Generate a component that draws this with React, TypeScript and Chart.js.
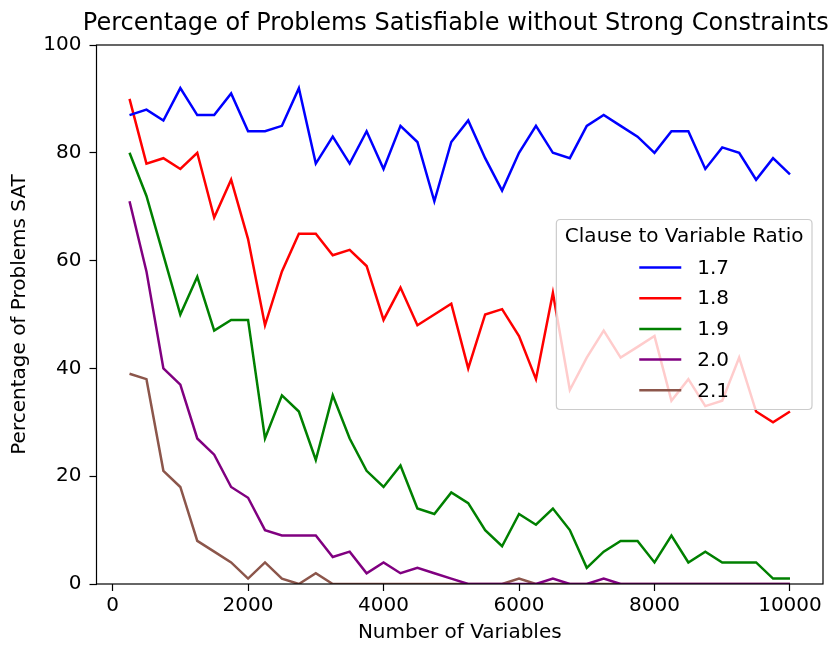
import React, { useEffect, useRef } from "react";
import { Chart, registerables } from "chart.js";

Chart.register(...registerables);

// ---- data ----
const numVariables = [
  250, 500, 750, 1000, 1250, 1500, 1750, 2000, 2250, 2500,
  2750, 3000, 3250, 3500, 3750, 4000, 4250, 4500, 4750, 5000,
  5250, 5500, 5750, 6000, 6250, 6500, 6750, 7000, 7250, 7500,
  7750, 8000, 8250, 8500, 8750, 9000, 9250, 9500, 9750, 10000,
];

const ratioLabels = ["1.7", "1.8", "1.9", "2.0", "2.1"];

const sat17 = [
  87, 88, 86, 92, 87, 87, 91, 84, 84, 85,
  92, 78, 83, 78, 84, 77, 85, 82, 71, 82,
  86, 79, 73, 80, 85, 80, 79, 85, 87, 85,
  83, 80, 84, 84, 77, 81, 80, 75, 79, 76,
];
const sat18 = [
  90, 78, 79, 77, 80, 68, 75, 64, 48, 58,
  65, 65, 61, 62, 59, 49, 55, 48, 50, 52,
  40, 50, 51, 46, 38, 54, 36, 42, 47, 42,
  44, 46, 34, 38, 33, 34, 42, 32, 30, 32,
];
const sat19 = [
  80, 72, 61, 50, 57, 47, 49, 49, 27, 35,
  32, 23, 35, 27, 21, 18, 22, 14, 13, 17,
  15, 10, 7, 13, 11, 14, 10, 3, 6, 8,
  8, 4, 9, 4, 6, 4, 4, 4, 1, 1,
];
const sat20 = [
  71, 58, 40, 37, 27, 24, 18, 16, 10, 9,
  9, 9, 5, 6, 2, 4, 2, 3, 2, 1,
  0, 0, 0, 0, 0, 1, 0, 0, 1, 0,
  0, 0, 0, 0, 0, 0, 0, 0, 0, 0,
];
const sat21 = [
  39, 38, 21, 18, 8, 6, 4, 1, 4, 1,
  0, 2, 0, 0, 0, 0, 0, 0, 0, 0,
  0, 0, 0, 1, 0, 0, 0, 0, 0, 0,
  0, 0, 0, 0, 0, 0, 0, 0, 0, 0,
];

const xTickValues = [0, 2000, 4000, 6000, 8000, 10000];
const yTickValues = [0, 20, 40, 60, 80, 100];

const titleText = "Percentage of Problems Satisfiable without Strong Constraints";
const xLabel = "Number of Variables";
const yLabel = "Percentage of Problems SAT";
const legendTitle = "Clause to Variable Ratio";

// ---- styles ----
const seriesColors = ["#0000ff", "#ff0000", "#008000", "#800080", "#8c564b"];
const FONT = "'DejaVu Sans', 'Liberation Sans', sans-serif";

const framePlugin = {
  id: "frame",
  afterDatasetsDraw(chart: any) {
    const { ctx, chartArea: a } = chart;
    ctx.save();
    ctx.strokeStyle = "#000";
    ctx.lineWidth = 1.2;
    ctx.strokeRect(a.left, a.top, a.right - a.left, a.bottom - a.top);
    ctx.restore();
  },
};

const legendPlugin = {
  id: "boxLegend",
  afterDatasetsDraw(chart: any) {
    const { ctx, chartArea: a } = chart;
    const ds = chart.data.datasets;
    ctx.save();
    ctx.font = `20px ${FONT}`;
    const titleW = ctx.measureText(legendTitle).width;
    let maxLab = 0;
    ds.forEach((d: any) => {
      maxLab = Math.max(maxLab, ctx.measureText(d.label).width);
    });
    const width = titleW + 17;
    const height = 190;
    const right = a.right - 11;
    const left = right - width;
    const cy = (a.top + a.bottom) / 2;
    const top = cy - height / 2;
    const r = 4;
    ctx.beginPath();
    ctx.moveTo(left + r, top);
    ctx.lineTo(right - r, top);
    ctx.quadraticCurveTo(right, top, right, top + r);
    ctx.lineTo(right, top + height - r);
    ctx.quadraticCurveTo(right, top + height, right - r, top + height);
    ctx.lineTo(left + r, top + height);
    ctx.quadraticCurveTo(left, top + height, left, top + height - r);
    ctx.lineTo(left, top + r);
    ctx.quadraticCurveTo(left, top, left + r, top);
    ctx.closePath();
    ctx.fillStyle = "rgba(255,255,255,0.8)";
    ctx.fill();
    ctx.strokeStyle = "#cccccc";
    ctx.lineWidth = 1.2;
    ctx.stroke();
    const cx = (left + right) / 2;
    ctx.fillStyle = "#000";
    ctx.textBaseline = "middle";
    ctx.textAlign = "center";
    ctx.fillText(legendTitle, cx, top + 17);
    const handleLen = 42;
    const gap = 16;
    const colW = handleLen + gap + maxLab;
    const x0 = cx - colW / 2;
    ctx.textAlign = "left";
    ds.forEach((d: any, i: number) => {
      const y = top + 48 + i * 30.7;
      ctx.strokeStyle = d.borderColor;
      ctx.lineWidth = d.borderWidth;
      ctx.beginPath();
      ctx.moveTo(x0, y);
      ctx.lineTo(x0 + handleLen, y);
      ctx.stroke();
      ctx.fillStyle = "#000";
      ctx.fillText(d.label, x0 + handleLen + gap, y + 1);
    });
    ctx.restore();
  },
};

const titlePlugin = {
  id: "plotTitle",
  afterDraw(chart: any) {
    const { ctx, chartArea: a } = chart;
    ctx.save();
    ctx.font = `24px ${FONT}`;
    ctx.fillStyle = "#000";
    ctx.textAlign = "center";
    ctx.textBaseline = "alphabetic";
    ctx.fillText(titleText, (a.left + a.right) / 2 - 4, 30);
    ctx.restore();
  },
};

export default function App() {
  const ref = useRef<HTMLCanvasElement>(null);

  useEffect(() => {
    const series = [sat17, sat18, sat19, sat20, sat21];
    const chart = new Chart(ref.current as HTMLCanvasElement, {
      type: "line",
      data: {
        datasets: series.map((vals, i) => ({
          label: ratioLabels[i],
          data: vals.map((v, j) => ({ x: numVariables[j], y: v })),
          borderColor: seriesColors[i],
          backgroundColor: seriesColors[i],
          borderWidth: 2.5,
          pointRadius: 0,
          tension: 0,
          fill: false,
        })),
      },
      options: {
        responsive: false,
        animation: false,
        devicePixelRatio: 1,
        layout: { padding: { left: 0, right: 15, top: 45, bottom: 0 } },
        plugins: {
          legend: { display: false },
          title: { display: false },
          tooltip: { enabled: false },
        },
        scales: {
          x: {
            type: "linear",
            min: -237.5,
            max: 10487.5,
            afterBuildTicks: (s: any) => {
              s.ticks = xTickValues.map((v) => ({ value: v }));
            },
            afterFit: (s: any) => {
              s.height = 62;
            },
            ticks: {
              color: "#000",
              font: { family: FONT, size: 20 },
              padding: 3,
              maxRotation: 0,
              autoSkip: false,
              callback: (v: any) => String(v),
            },
            grid: {
              drawOnChartArea: false,
              drawTicks: true,
              tickLength: 7,
              tickColor: "#000",
              tickWidth: 1.2,
            },
            border: { display: false },
            title: {
              display: true,
              text: xLabel,
              color: "#000",
              font: { family: FONT, size: 20 },
              padding: { top: 0, bottom: 1 },
            },
          },
          y: {
            type: "linear",
            min: 0,
            max: 100,
            afterBuildTicks: (s: any) => {
              s.ticks = yTickValues.map((v) => ({ value: v }));
            },
            afterFit: (s: any) => {
              s.width = 96.5;
            },
            ticks: {
              color: "#000",
              font: { family: FONT, size: 20 },
              padding: 8,
              autoSkip: false,
              callback: (v: any) => String(v),
            },
            grid: {
              drawOnChartArea: false,
              drawTicks: true,
              tickLength: 7,
              tickColor: "#000",
              tickWidth: 1.2,
            },
            border: { display: false },
            title: {
              display: true,
              text: yLabel,
              color: "#000",
              font: { family: FONT, size: 20 },
              padding: { top: 8, bottom: 0 },
            },
          },
        },
      },
      plugins: [framePlugin, legendPlugin, titlePlugin],
    } as any);
    return () => chart.destroy();
  }, []);

  return (
    <div style={{ position: "absolute", left: 0, top: 0, width: 838, height: 646, background: "#fff" }}>
      <canvas ref={ref} width={838} height={646} style={{ display: "block", width: 838, height: 646 }} />
    </div>
  );
}
